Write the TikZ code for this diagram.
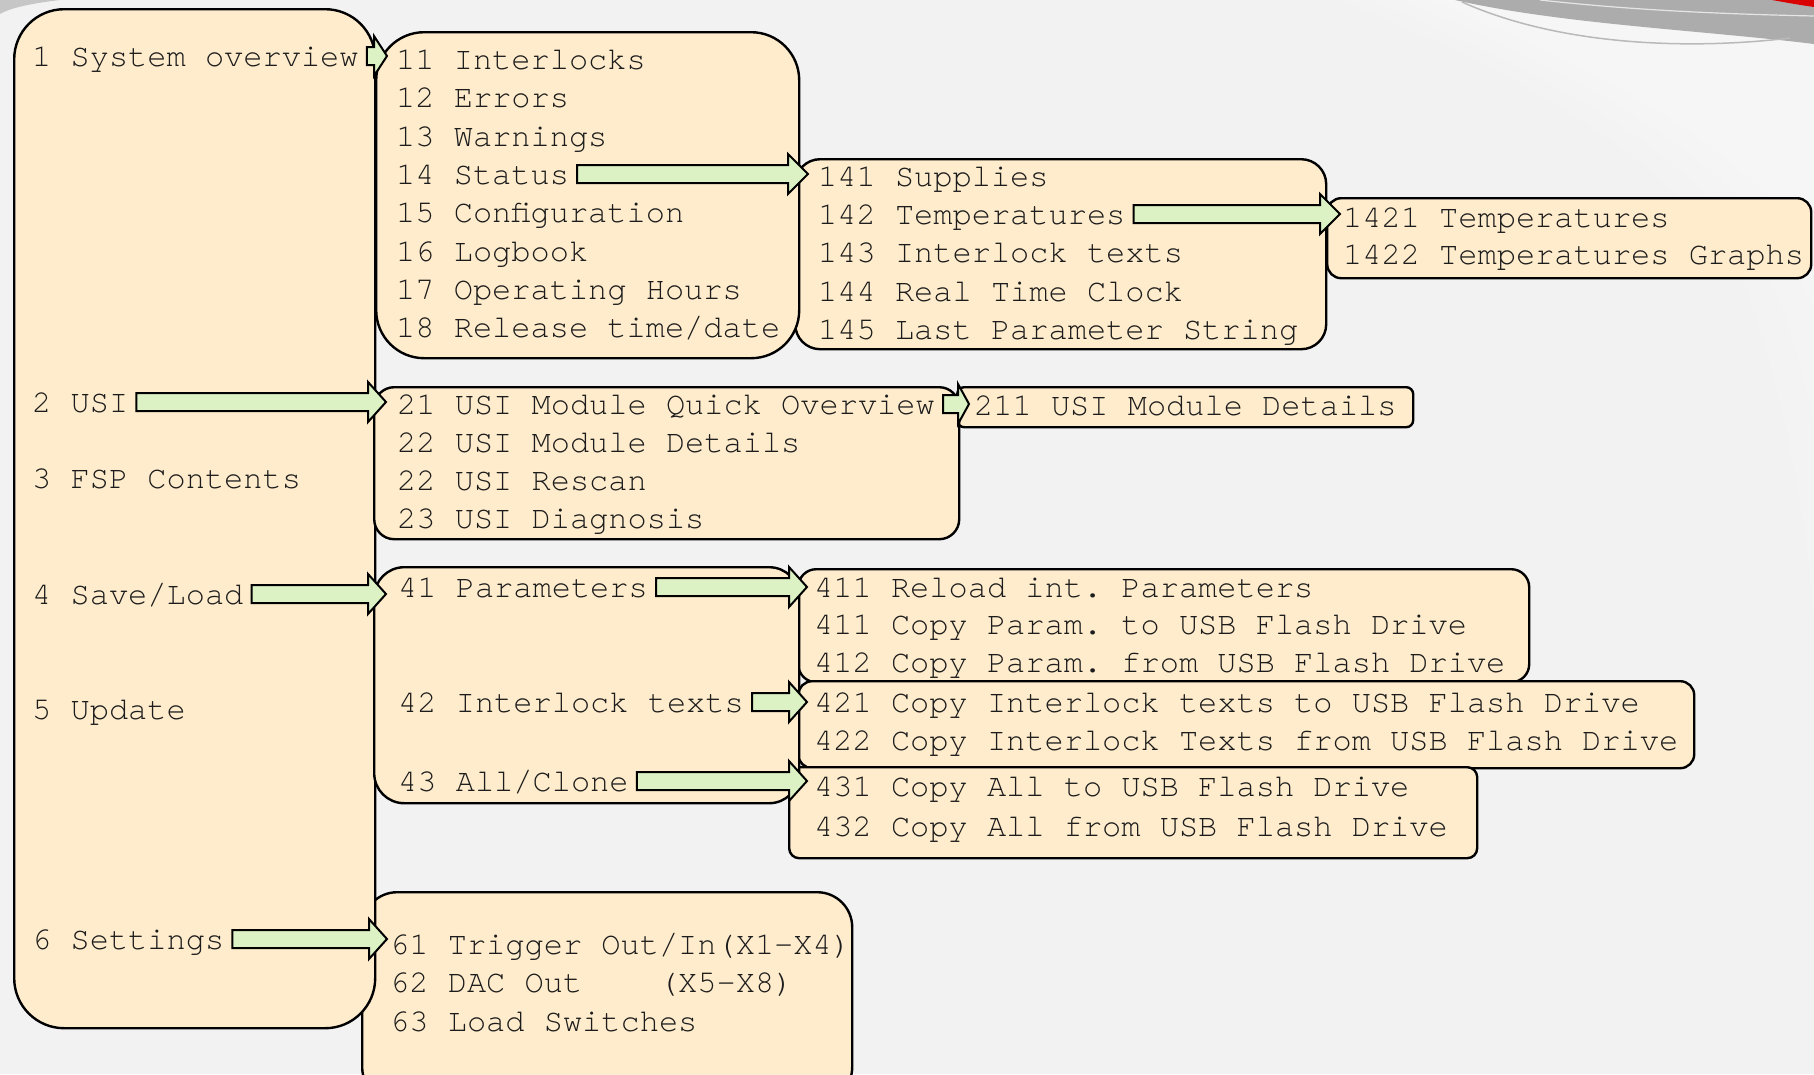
\documentclass[tikz,border=0pt]{standalone}
\usepackage{fontspec}
\newfontfamily\menufont{TeX Gyre Cursor}
\usetikzlibrary{calc}

\definecolor{panelfill}{RGB}{254,236,204}
\definecolor{arrowfill}{RGB}{221,242,196}
\definecolor{bggray}{RGB}{242,242,242}
\definecolor{inkc}{RGB}{28,28,28}

\tikzset{
  panel/.style={draw=black, line width=2.4pt, fill=panelfill, anchor=north west, inner sep=0pt},
  menuitem/.style={anchor=base west, inner sep=0pt, text=inkc,
    font=\menufont\fontsize{32}{38}\selectfont\frenchspacing},
  flowarrowshape/.style={draw=black, line width=2pt, fill=arrowfill, line join=miter},
}

% block arrow from the end of one menu entry to the start of another
% #1 source, #2 target, #3 head length, #4 gap before the target text
\newcommand\flowarrow[4]{%
  \draw[flowarrowshape] let \p1=(#1.base east), \p2=(#2.base west) in
    (\x1+8pt,\y1+19pt) -- (\x2-#4pt-#3pt,\y1+19pt) -- (\x2-#4pt-#3pt,\y1+30pt)
    -- (\x2-#4pt,\y1+10pt) -- (\x2-#4pt-#3pt,\y1-10pt) -- (\x2-#4pt-#3pt,\y1+1pt)
    -- (\x1+8pt,\y1+1pt) -- cycle;}

% a rounded panel: name, left, top, width, height, corner radius
\newcommand\menupanel[6]{%
  \node[panel, minimum width=#4pt, minimum height=#5pt, rounded corners=#6pt] (#1) at (#2,#3) {};}

\begin{document}
\begin{tikzpicture}[x=1pt, y=-1pt]
\useasboundingbox (0,0) rectangle (1814,1074);
\clip (0,0) rectangle (1814,1074);

% backdrop with a soft lighter area on the right
\fill[bggray] (0,0) rectangle (1814,1074);
\foreach \d in {0,30,60,90}{
  \fill[white, opacity=0.1] (1340+\d,0) .. controls (1560+\d,90) and (1700+\d,180) .. (1750+\d,300)
    .. controls (1790+\d,420) and (1805+\d,520) .. (1814+\d,620) -- (1904,620) -- (1904,0) -- cycle;
}
\fill[gray!65] (1455,0) .. controls (1560,24) and (1700,30) .. (1814,44) -- (1814,0) -- cycle;
\draw[white!80!gray, line width=1.2pt] (1540,0) .. controls (1630,10) and (1720,14) .. (1814,16);
\draw[gray!55, line width=1.5pt] (1462,2) .. controls (1560,46) and (1690,50) .. (1790,38);
\fill[red!85!black] (1772,0) -- (1814,0) -- (1814,7) .. controls (1800,5) .. (1772,0) -- cycle;
\fill[gray!45] (0,0) -- (60,0) .. controls (35,3) and (12,7) .. (0,14) -- cycle;

% panels, back to front
\menupanel{pC}{1326}{197}{484}{80}{14}
\menupanel{pB}{794}{158}{531}{190}{25}
\menupanel{pE}{956}{386}{456}{40}{7}
\menupanel{pG}{797}{568}{731}{113}{18}
\menupanel{pH}{797}{680}{896}{87}{14}
\menupanel{pI}{788}{766}{688}{91}{10}
\menupanel{pJ}{361}{891}{490}{210}{35}
\menupanel{pMain}{13}{8}{361}{1019}{50}
\menupanel{pA}{375}{31}{423}{326}{48}
\menupanel{pD}{373}{386}{585}{152}{20}
\menupanel{pF}{373}{566}{425}{236}{30}

% top level
\node[menuitem] (s1) at (32,66)  {1 System overview};
\node[menuitem] (s2) at (32,412) {2 USI};
\node[menuitem] (s3) at (32,488) {3 FSP Contents};
\node[menuitem] (s4) at (32,604) {4 Save/Load};
\node[menuitem] (s5) at (32,719) {5 Update};
\node[menuitem] (s6) at (32,949) {6 Settings};

% system overview
\node[menuitem] (t11) at (396,69)  {11 Interlocks};
\node[menuitem] (t12) at (396,107) {12 Errors};
\node[menuitem] (t13) at (396,146) {13 Warnings};
\node[menuitem] (t14) at (396,184) {14 Status};
\node[menuitem] (t15) at (396,222) {15 Configuration};
\node[menuitem] (t16) at (396,261) {16 Logbook};
\node[menuitem] (t17) at (396,299) {17 Operating Hours};
\node[menuitem] (t18) at (396,337) {18 Release time/date};

\node[menuitem] (t141) at (818,186) {141 Supplies};
\node[menuitem] (t142) at (818,224) {142 Temperatures};
\node[menuitem] (t143) at (818,262) {143 Interlock texts};
\node[menuitem] (t144) at (818,301) {144 Real Time Clock};
\node[menuitem] (t145) at (818,339) {145 Last Parameter String};

\node[menuitem] (t1421) at (1343,227) {1421 Temperatures};
\node[menuitem] (t1422) at (1343,264) {1422 Temperatures Graphs};

% USI
\node[menuitem] (t21) at (397,414) {21 USI Module Quick Overview};
\node[menuitem] (t22) at (397,452) {22 USI Module Details};
\node[menuitem] (t22b) at (397,490) {22 USI Rescan};
\node[menuitem] (t23) at (397,528) {23 USI Diagnosis};
\node[menuitem] (t211) at (974,415) {211 USI Module Details};

% save / load
\node[menuitem] (t41) at (398,597) {41 Parameters};
\node[menuitem] (t42) at (398,712) {42 Interlock texts};
\node[menuitem] (t43) at (398,791) {43 All/Clone};

\node[menuitem] (t411) at (814,597) {411 Reload int. Parameters};
\node[menuitem] (t411b) at (814,634) {411 Copy Param. to USB Flash Drive};
\node[menuitem] (t412) at (814,672) {412 Copy Param. from USB Flash Drive};
\node[menuitem] (t421) at (814,712) {421 Copy Interlock texts to USB Flash Drive};
\node[menuitem] (t422) at (814,750) {422 Copy Interlock Texts from USB Flash Drive};
\node[menuitem] (t431) at (814,796) {431 Copy All to USB Flash Drive};
\node[menuitem] (t432) at (814,836) {432 Copy All from USB Flash Drive};

% settings
\node[menuitem] (t61) at (390,954)  {61 Trigger Out/In(X1-X4)};
\node[menuitem] (t62) at (390,992)  {62 DAC Out\ \ \ \ (X5-X8)};
\node[menuitem] (t63) at (390,1031) {63 Load Switches};

% connectors
\flowarrow{s1}{t11}{13}{9}
\flowarrow{t14}{t141}{20}{10}
\flowarrow{t142}{t1421}{20}{3}
\flowarrow{s2}{t21}{18}{11}
\flowarrow{t21}{t211}{11}{5}
\flowarrow{s4}{t41}{18}{12}
\flowarrow{t41}{t411}{18}{7}
\flowarrow{t42}{t421}{18}{7}
\flowarrow{t43}{t431}{18}{7}
\flowarrow{s6}{t61}{18}{3}
\end{tikzpicture}
\end{document}
